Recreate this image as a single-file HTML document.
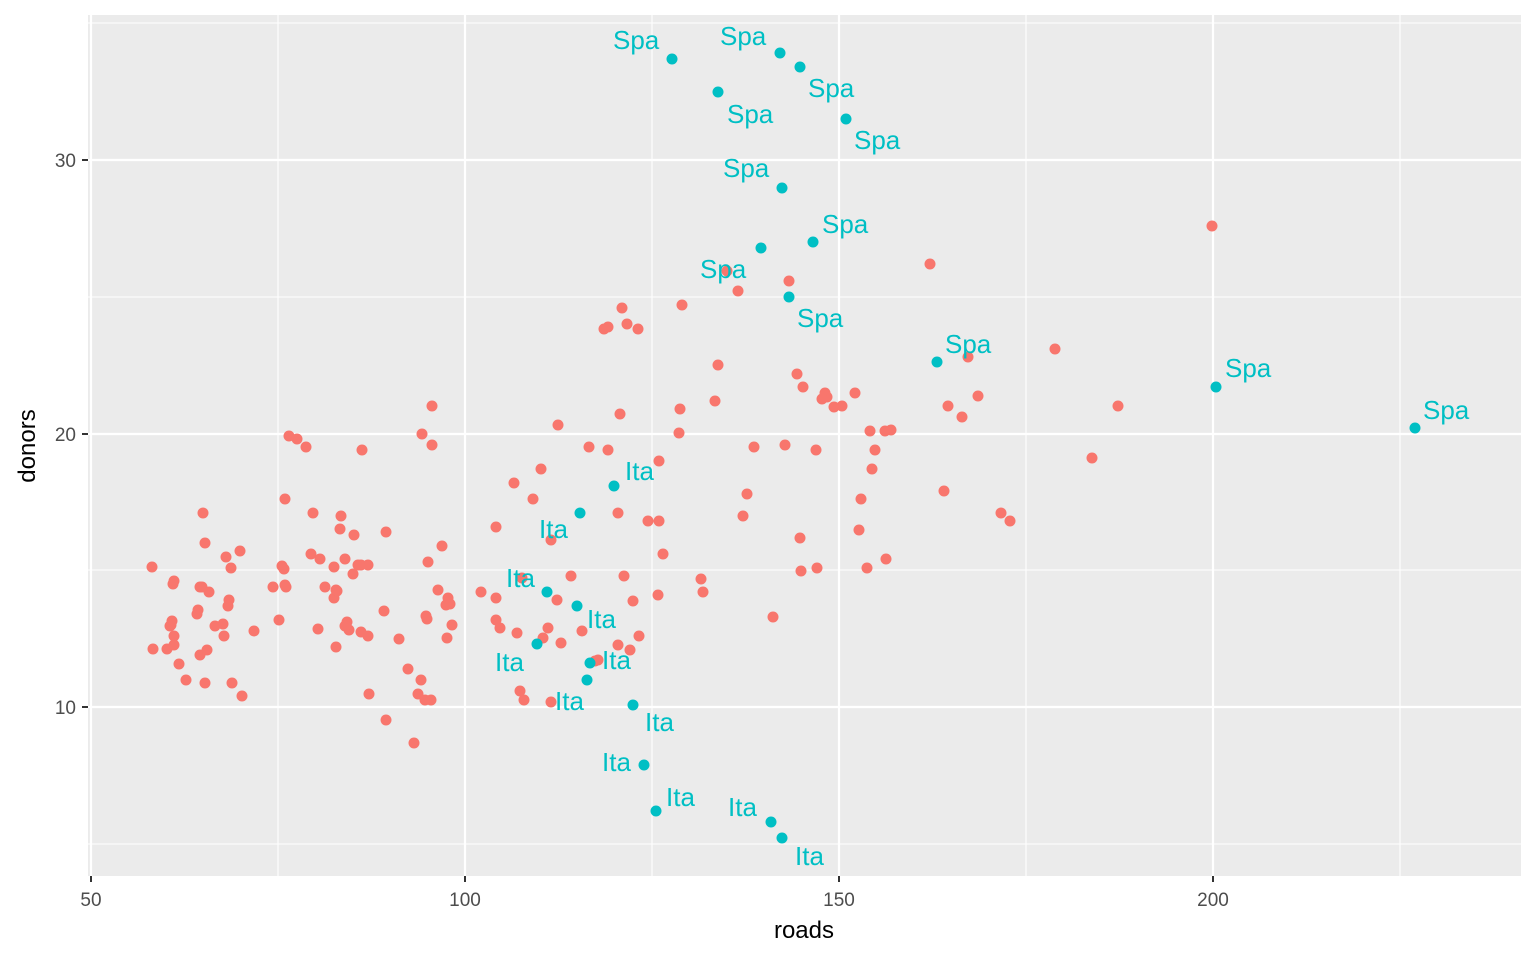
<!DOCTYPE html>
<html><head><meta charset="utf-8"><style>body{margin:0;background:#fff}svg{display:block}</style></head><body>
<svg width="1536" height="960" xmlns="http://www.w3.org/2000/svg" font-family="Liberation Sans, sans-serif">
<rect x="88" y="15" width="1433" height="861" fill="#ebebeb"/>
<g stroke="#fff" stroke-width="1.1">
<line x1="278" y1="15" x2="278" y2="876"/><line x1="652" y1="15" x2="652" y2="876"/><line x1="1026" y1="15" x2="1026" y2="876"/><line x1="1400" y1="15" x2="1400" y2="876"/>
<line x1="88" y1="23" x2="1521" y2="23"/><line x1="88" y1="297" x2="1521" y2="297"/><line x1="88" y1="570" x2="1521" y2="570"/><line x1="88" y1="844" x2="1521" y2="844"/>
</g>
<g stroke="#fff" stroke-width="2.2">
<line x1="91" y1="15" x2="91" y2="876"/><line x1="465" y1="15" x2="465" y2="876"/><line x1="839" y1="15" x2="839" y2="876"/><line x1="1213" y1="15" x2="1213" y2="876"/>
<line x1="88" y1="160" x2="1521" y2="160"/><line x1="88" y1="434" x2="1521" y2="434"/><line x1="88" y1="707" x2="1521" y2="707"/>
</g>
<g stroke="#333" stroke-width="2">
<line x1="91" y1="876" x2="91" y2="882"/><line x1="465" y1="876" x2="465" y2="882"/><line x1="839" y1="876" x2="839" y2="882"/><line x1="1213" y1="876" x2="1213" y2="882"/>
<line x1="82" y1="160" x2="88" y2="160"/><line x1="82" y1="434" x2="88" y2="434"/><line x1="82" y1="707" x2="88" y2="707"/>
</g>
<g fill="#4d4d4d" font-size="19" text-anchor="middle">
<text x="91" y="906">50</text><text x="465" y="906">100</text><text x="839" y="906">150</text><text x="1213" y="906">200</text>
</g>
<g fill="#4d4d4d" font-size="19" text-anchor="end">
<text x="76" y="167">30</text><text x="76" y="441">20</text><text x="76" y="714">10</text>
</g>
<text x="804" y="938" font-size="24" text-anchor="middle" fill="#000">roads</text>
<text transform="translate(35,446) rotate(-90)" font-size="24" text-anchor="middle" fill="#000">donors</text>
<g fill="#f8766d" id="red"></g>
<g fill="#00bfc4" id="teal"></g>
<g fill="#00bfc4" font-size="26" id="lab"></g>
<script>
var R=[[1212,226],[930,264],[789,281],[727,271],[738,291],[682,305],[622,308],[608,327],[604,329],[627,324],[638,329],[718,365],[1055,349],[968,357],[797,374],[803,387],[825,393],[827,397],[822,399],[834,407],[842,406],[855,393],[978,396],[948,406],[962,417],[1118,406],[1092,458],[715,401],[680,409],[620,414],[558,425],[679,433],[785,445],[754,447],[816,450],[870,431],[885,431],[891,430],[875,450],[872,469],[861,499],[944,491],[747,494],[743,516],[859,530],[800,538],[1001,513],[1010,521],[886,559],[867,568],[817,568],[801,571],[659,461],[589,447],[608,450],[541,469],[514,483],[533,499],[618,513],[648,521],[659,521],[551,540],[496,527],[663,554],[701,579],[703,592],[658,595],[633,601],[624,576],[571,576],[557,600],[595,661],[618,645],[630,650],[639,636],[582,631],[548,628],[543,638],[561,643],[517,633],[500,628],[496,620],[496,598],[481,592],[522,578],[520,691],[524,700],[551,702],[773,617],[152,567],[173,584],[174,581],[200,587],[203,513],[205,543],[226,557],[240,551],[231,568],[285,499],[289,436],[297,439],[306,447],[313,513],[311,554],[320,559],[362,450],[422,434],[432,445],[432,406],[442,546],[428,562],[386,532],[341,516],[340,529],[345,559],[353,574],[358,565],[368,565],[361,565],[354,535],[334,567],[325,587],[334,598],[337,591],[336,590],[282,566],[284,569],[286,587],[285,585],[273,587],[279,620],[254,631],[229,600],[228,606],[223,624],[224,636],[215,626],[209,592],[202,587],[198,610],[197,614],[179,664],[186,680],[200,655],[207,650],[205,683],[232,683],[242,696],[172,621],[171,625],[167,649],[153,649],[174,645],[174,636],[318,629],[336,647],[347,622],[349,630],[361,632],[368,636],[345,626],[384,611],[399,639],[369,694],[386,720],[408,669],[418,694],[421,680],[425,700],[431,700],[414,743],[427,619],[426,616],[448,598],[446,605],[450,604],[438,590],[447,638],[452,625],[170,626],[598,660]];
var T=[[672,59,613,49,"Spa"],[780,53,720,45,"Spa"],[800,67,808,97,"Spa"],[718,92,727,123,"Spa"],[846,119,854,149,"Spa"],[782,188,723,177,"Spa"],[813,242,822,233,"Spa"],[761,248,700,278,"Spa"],[789,297,797,327,"Spa"],[937,362,945,353,"Spa"],[1216,387,1225,377,"Spa"],[1415,428,1423,419,"Spa"],[614,486,625,480,"Ita"],[580,513,539,538,"Ita"],[547,592,506,587,"Ita"],[577,606,587,628,"Ita"],[537,644,495,671,"Ita"],[590,663,602,669,"Ita"],[587,680,555,710,"Ita"],[633,705,645,731,"Ita"],[644,765,602,771,"Ita"],[656,811,666,806,"Ita"],[771,822,728,816,"Ita"],[782,838,795,865,"Ita"]];
var ns="http://www.w3.org/2000/svg";
function c(g,x,y){var e=document.createElementNS(ns,"circle");e.setAttribute("cx",x);e.setAttribute("cy",y);e.setAttribute("r",5.5);document.getElementById(g).appendChild(e);}
R.forEach(function(p){c("red",p[0],p[1]);});
T.forEach(function(p){c("teal",p[0],p[1]);var t=document.createElementNS(ns,"text");t.setAttribute("x",p[2]);t.setAttribute("y",p[3]);t.textContent=p[4];document.getElementById("lab").appendChild(t);});
</script>
</svg>
</body></html>
